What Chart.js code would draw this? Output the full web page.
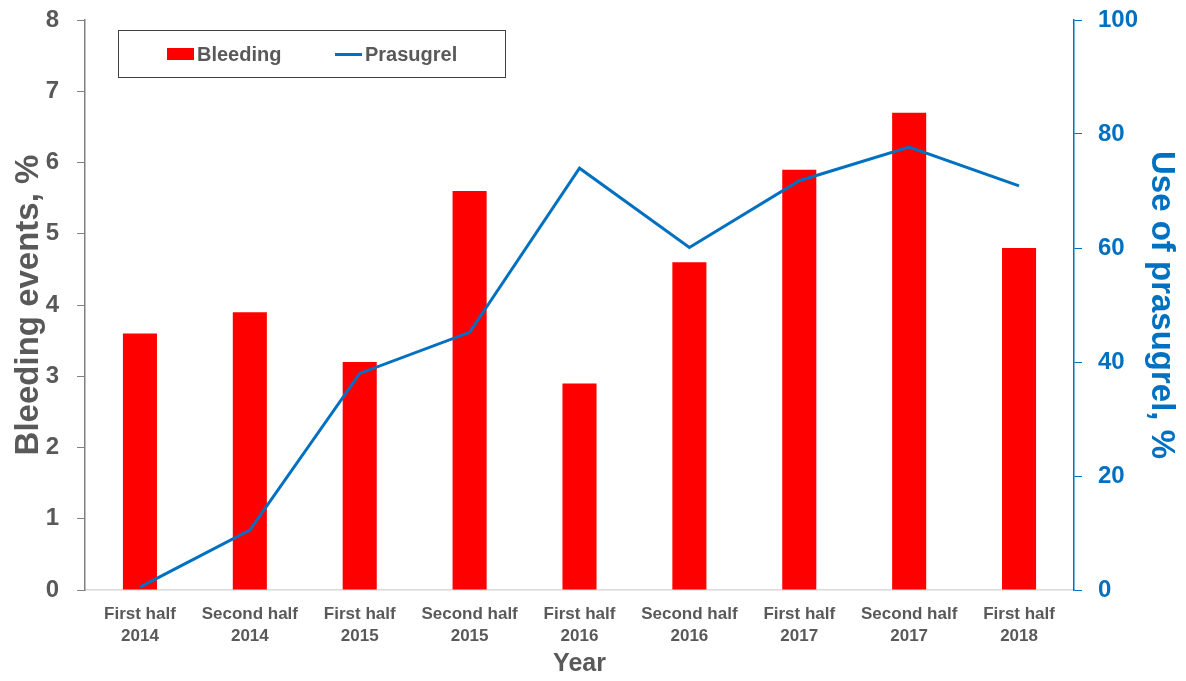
<!DOCTYPE html>
<html>
<head>
<meta charset="utf-8">
<script src="https://cdn.jsdelivr.net/npm/chart.js@4"></script>
<style>
  html, body { margin: 0; padding: 0; background: #fff; }
  #wrap { position: relative; width: 1186px; height: 681px; }
  #legend {
    position: absolute; left: 118px; top: 30px; width: 388px; height: 48px;
    border: 1.5px solid #404040; box-sizing: border-box;
    font: bold 20px "Liberation Sans", Arial, sans-serif; color: #595959;
  }
  #legend .item { position: absolute; top: 12px; line-height: 22px; }
  #legend .sw { display: inline-block; vertical-align: middle; margin-right: 3px; }
</style>
</head>
<body>
<div id="wrap">
  <canvas id="chart"></canvas>
  <div id="legend">
    <span class="item" style="left:48px"><span class="sw" style="width:27px;height:12px;background:#ff0000;margin-top:-3px"></span>Bleeding</span>
    <span class="item" style="left:216px"><span class="sw" style="width:27px;height:3px;background:#0070c0;margin-top:-3px"></span>Prasugrel</span>
  </div>
</div>
<script>
var periods = [
  ["First half", "2014"], ["Second half", "2014"],
  ["First half", "2015"], ["Second half", "2015"],
  ["First half", "2016"], ["Second half", "2016"],
  ["First half", "2017"], ["Second half", "2017"],
  ["First half", "2018"]
];
var bleeding = [3.6, 3.9, 3.2, 5.6, 2.9, 4.6, 5.9, 6.7, 4.8];
var prasugrel = [0.5, 10.5, 38, 45.2, 74, 60.1, 71.8, 77.7, 70.9];

var grey = "#595959";
var blue = "#0070c0";
var fam = '"Liberation Sans", Arial, sans-serif';

// keep the plot box fixed whatever the label sizes are
function fixVertical(width) {
  return function (s) {
    s.width = width;
    s.paddingTop = 0;
    s.paddingBottom = 0;
  };
}

new Chart(document.getElementById("chart"), {
  data: {
    labels: periods,
    datasets: [
      {
        type: "line",
        label: "Prasugrel",
        data: prasugrel,
        yAxisID: "y1",
        borderColor: blue,
        borderWidth: 3,
        pointRadius: 0,
        tension: 0,
        order: 1
      },
      {
        type: "bar",
        label: "Bleeding",
        data: bleeding,
        yAxisID: "y",
        backgroundColor: "#ff0000",
        barPercentage: 1,
        categoryPercentage: 0.31,
        order: 2
      }
    ]
  },
  options: {
    responsive: true,
    maintainAspectRatio: false,
    animation: false,
    layout: { padding: { top: 20, left: 0, right: 0, bottom: 0 } },
    plugins: { legend: { display: false }, tooltip: { enabled: false } },
    scales: {
      x: {
        grid: { display: false },
        border: { display: true, color: "#d9d9d9", width: 1.5 },
        ticks: {
          color: grey, padding: 5, maxRotation: 0, autoSkip: false,
          font: { family: fam, size: 17, weight: "bold", lineHeight: 1.3 }
        },
        title: {
          display: true, text: "Year", color: grey, padding: { top: 0, bottom: 4 },
          font: { family: fam, size: 25, weight: "bold", lineHeight: 1 }
        },
        afterFit: function (s) {
          s.height = 91;
          s.paddingLeft = 0;
          s.paddingRight = 0;
        }
      },
      y: {
        position: "left",
        min: 0, max: 8,
        ticks: {
          stepSize: 1, color: grey, padding: 18,
          font: { family: fam, size: 24, weight: "bold" }
        },
        grid: { display: true, drawOnChartArea: false, drawTicks: true, tickLength: 8, color: "#808080" },
        border: { color: "#808080", width: 1.5 },
        title: {
          display: true, text: "Bleeding events, %", color: grey, padding: { top: 12, bottom: 0 },
          font: { family: fam, size: 33, weight: "bold", lineHeight: 1 }
        },
        afterFit: fixVertical(85)
      },
      y1: {
        position: "right",
        min: 0, max: 100,
        ticks: {
          stepSize: 20, color: blue, padding: 16,
          font: { family: fam, size: 24, weight: "bold" }
        },
        grid: { display: true, drawOnChartArea: false, drawTicks: true, tickLength: 8, color: blue },
        border: { color: blue, width: 1.5 },
        title: {
          display: true, text: "Use of prasugrel, %", color: blue, padding: { top: 8, bottom: 0 },
          font: { family: fam, size: 33, weight: "bold", lineHeight: 1 }
        },
        afterFit: fixVertical(112)
      }
    }
  }
});
</script>
</body>
</html>
